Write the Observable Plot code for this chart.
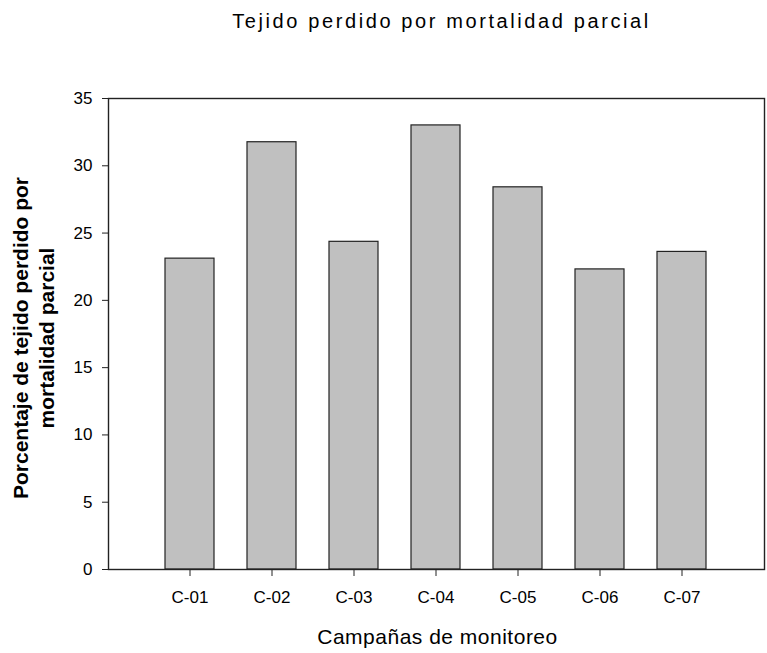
<!DOCTYPE html>
<html>
<head>
<meta charset="utf-8">
<script src="https://cdn.jsdelivr.net/npm/d3@7"></script>
<script src="https://cdn.jsdelivr.net/npm/@observablehq/plot@0.6"></script>
<style>
  html, body { margin: 0; padding: 0; background: #fff; }
  svg { display: block; }
</style>
</head>
<body>
<div id="chart"></div>
<script>
const campaigns = ["C-01", "C-02", "C-03", "C-04", "C-05", "C-06", "C-07"];
const values = [23.1, 31.75, 24.35, 33.0, 28.4, 22.3, 23.6];
const yTicks = [0, 5, 10, 15, 20, 25, 30, 35];
const titleText = "Tejido perdido por mortalidad parcial";
const xLabel = "Campañas de monitoreo";
const yLabel = "Porcentaje de tejido perdido por\nmortalidad parcial";

const data = campaigns.map((c, i) => ({campaign: c, value: values[i]}));
const font = "'Liberation Sans', Arial, sans-serif";

const chart = Plot.plot({
  width: 767,
  height: 653,
  marginLeft: 108,
  marginRight: 3,
  marginTop: 98,
  marginBottom: 84,
  style: {fontFamily: font, fontSize: "17px", color: "#000", background: "#fff"},
  x: {domain: campaigns, paddingInner: 0.4, paddingOuter: 0.7, label: null},
  y: {domain: [0, 35], label: null},
  marks: [
    Plot.barY(data, {x: "campaign", y: "value", fill: "#c0c0c0", stroke: "#222", strokeWidth: 1.2}),
    Plot.frame({stroke: "#222", strokeWidth: 1.4}),
    Plot.axisY(yTicks, {tickSize: 6, tickPadding: 10, fontSize: 17, stroke: "#222", fill: "#000", label: null}),
    Plot.axisX({tickSize: 7, tickPadding: 14, fontSize: 17, stroke: "#222", fill: "#000", label: null}),
    Plot.text([titleText], {frameAnchor: "top", lineAnchor: "bottom", dy: -71, dx: 5, fontSize: 20, fill: "#000", fontFamily: font}),
    Plot.text([xLabel], {frameAnchor: "bottom", lineAnchor: "bottom", dy: 74, dx: 1, fontSize: 21, fill: "#000", fontFamily: font}),
    Plot.text([yLabel], {frameAnchor: "left", textAnchor: "middle", rotate: -90, lineAnchor: "middle", dx: -75.4, dy: 4, fontSize: 21, fontWeight: "bold", fill: "#000", fontFamily: font, lineHeight: 1.24})
  ]
});
document.getElementById("chart").appendChild(chart);
// letter spacing for title and x label
d3.select(chart).selectAll("text").each(function() {
  const t = this.textContent;
  if (t === titleText) this.setAttribute("letter-spacing", "2.6");
  if (t === xLabel) this.setAttribute("letter-spacing", "0.5");
});
</script>
</body>
</html>
